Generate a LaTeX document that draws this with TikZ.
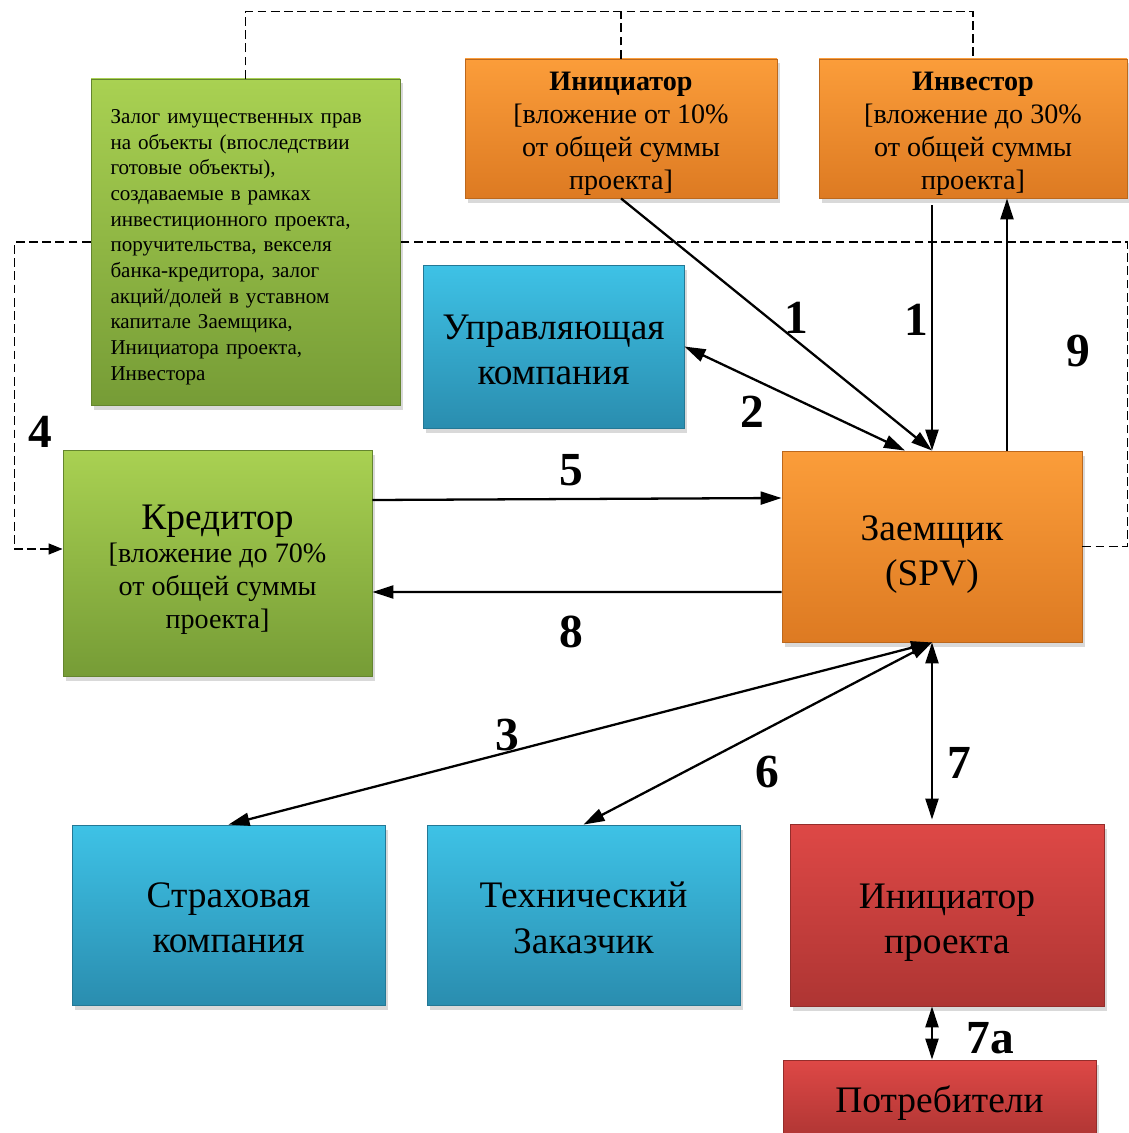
\documentclass[tikz,border=0pt]{standalone}
\usepackage{fontspec}
\setmainfont{Liberation Serif}
\usetikzlibrary{arrows.meta,positioning,shadows,calc}
\definecolor{orTop}{HTML}{FB9D3A}
\definecolor{orBot}{HTML}{DD7A22}
\definecolor{blTop}{HTML}{3EC2E6}
\definecolor{blBot}{HTML}{2A8DAF}
\definecolor{grTop}{HTML}{A9D152}
\definecolor{grBot}{HTML}{769C36}
\definecolor{rdTop}{HTML}{DE4846}
\definecolor{rdBot}{HTML}{AE3533}

\begin{document}
\begin{tikzpicture}[>={Triangle[length=0.42cm,width=0.26cm]},on grid,line width=1.3pt]
\useasboundingbox (0,0) rectangle (22.58,-22.66);
\tikzset{box/.style={rectangle,inner sep=0pt,line width=0.5pt,
    drop shadow={opacity=0.3,shadow xshift=0.05cm,shadow yshift=-0.09cm}}}
\tikzset{orbox/.style={box,top color=orTop,bottom color=orBot,draw=orBot!85!black}}
\tikzset{blbox/.style={box,top color=blTop,bottom color=blBot,draw=blBot!85!black}}
\tikzset{grbox/.style={box,top color=grTop,bottom color=grBot,draw=grBot!85!black}}
\tikzset{rdbox/.style={box,top color=rdTop,bottom color=rdBot,draw=rdBot!85!black}}
\tikzset{txt/.style={align=center,inner sep=0pt,font=\fontsize{21.3}{25.8}\selectfont}}
\tikzset{stxt/.style={align=center,inner sep=0pt,font=\fontsize{16}{18.8}\selectfont}}
\tikzset{num/.style={font=\fontsize{27}{30}\selectfont\bfseries,inner sep=0pt}}

  \node[grbox,minimum width=6.18cm,minimum height=6.52cm,
        label={[text width=5.4cm,align=left,inner sep=0pt,font=\fontsize{12}{14.6}\selectfont,yshift=-0.1cm]center:
        Залог имущественных прав\\ на объекты (впоследствии\\ готовые объекты),\\
        создаваемые в рамках\\ инвестиционного проекта,\\ поручительства, векселя\\
        банка-кредитора, залог\\ акций/долей в уставном\\ капитале Заемщика,\\
        Инициатора проекта,\\ Инвестора}] (zalog) at (4.91,-4.84) {};
  \node[orbox,minimum width=6.24cm,minimum height=2.78cm,
        label={[stxt,yshift=-0.1cm]center:\textbf{Инициатор}\\ {[}вложение от 10\%\\ от общей суммы\\ проекта]}]
        (init) at (12.42,-2.57) {};
  \node[orbox,minimum width=6.16cm,minimum height=2.78cm,
        label={[stxt,yshift=-0.1cm]center:\textbf{Инвестор}\\ {[}вложение до 30\%\\ от общей суммы\\ проекта]}]
        (inv) [right=7.04cm of init] {};
  \node[blbox,minimum width=5.22cm,minimum height=3.26cm,
        label={[txt,yshift=-0.07cm]center:Управляющая\\ компания}] (uk) at (11.07,-6.93) {};
  \node[grbox,minimum width=6.18cm,minimum height=4.52cm,
        label={[stxt,yshift=-0.14cm]center:{\fontsize{21.3}{25.8}\selectfont Кредитор}\\ {[}вложение до 70\%\\ от общей суммы\\ проекта]}]
        (kred) at (4.35,-11.26) {};
  \node[orbox,minimum width=6.0cm,minimum height=3.82cm,
        label={[txt,yshift=-0.16cm]center:Заемщик\\ (SPV)}] (zaem) at (18.64,-10.93) {};
  \node[blbox,minimum width=6.26cm,minimum height=3.6cm,
        label={[txt,yshift=-0.06cm]center:Страховая\\ компания}] (strah) at (4.57,-18.3) {};
  \node[blbox,minimum width=6.26cm,minimum height=3.6cm,
        label={[txt,yshift=-0.06cm]center:Технический\\ Заказчик}] (tech) [right=7.1cm of strah] {};
  \node[rdbox,minimum width=6.28cm,minimum height=3.64cm,
        label={[txt,yshift=-0.16cm]center:Инициатор\\ проекта}] (initp) [right=7.27cm of tech] {};
  \node[rdbox,minimum width=6.26cm,minimum height=1.6cm,
        label={[txt,yshift=-0.06cm]center:Потребители}] (potr) [below=3.7cm of initp,xshift=-0.15cm] {};

\tikzset{mystyle/.style={->}}
\tikzset{mydouble/.style={<->}}
\tikzset{mydash/.style={line width=0.8pt,dash pattern=on 5pt off 2.5pt}}
% dashed links
\draw[mydash] (zalog.north) -- ++(0,1.34) coordinate (t1) -| (inv.north);
\draw[mydash] (init.north) -- (init.north |- t1);
\draw[mydash] (zaem.east) -- ++(0.9,0) |- (zalog.east);
\draw[mydash,-{Triangle[length=0.28cm,width=0.22cm]}] (zalog.west) -- ++(-1.52,0)
      |- ($(kred.west)+(0,0.28)$);
% arrows
\path (init.south)                       edge [mystyle]   (zaem.north)
      ($(zaem.north |- inv.south)+(0,-0.14)$) edge [mystyle] (zaem.north)
      ($(zaem.north)+(1.5,0)$)           edge [mystyle]   ($(zaem.north |- inv.south)+(1.5,0)$)
      (uk.east)                          edge [mydouble]  ($(zaem.north)+(-0.54,0)$)
      ($(kred.east)+(0,1.26)$)           edge [mystyle]   ($(zaem.west)+(0,0.97)$)
      ($(zaem.west)+(0,-0.91)$)          edge [mystyle]   ($(kred.east)+(0,-0.58)$)
      (zaem.south)                       edge [mydouble]  (strah.north)
      (zaem.south)                       edge [mydouble]  (tech.north)
      (zaem.south)                       edge [mydouble]  ($(zaem.south |- initp.north)+(0,0.08)$)
      (zaem.south |- initp.south)        edge [mydouble]  (zaem.south |- potr.north);
% numbers
\node[num] (n1a) at (15.92,-6.36) {1};
\node[num] (n1b) at (18.32,-6.4)  {1};
\node[num] (n9)  at (21.56,-7.02) {9};
\node[num] (n2)  at (15.04,-8.24) {2};
\node[num] (n4)  at (0.8,-8.64)   {4};
\node[num] (n5)  at (11.42,-9.4)  {5};
\node[num] (n8)  at (11.42,-12.64) {8};
\node[num] (n3)  at (10.14,-14.7) {3};
\node[num] (n6)  at (15.34,-15.44) {6};
\node[num] (n7)  at (19.18,-15.26) {7};
\node[num] (n7a) at (19.8,-20.76) {7а};
\end{tikzpicture}
\end{document}
